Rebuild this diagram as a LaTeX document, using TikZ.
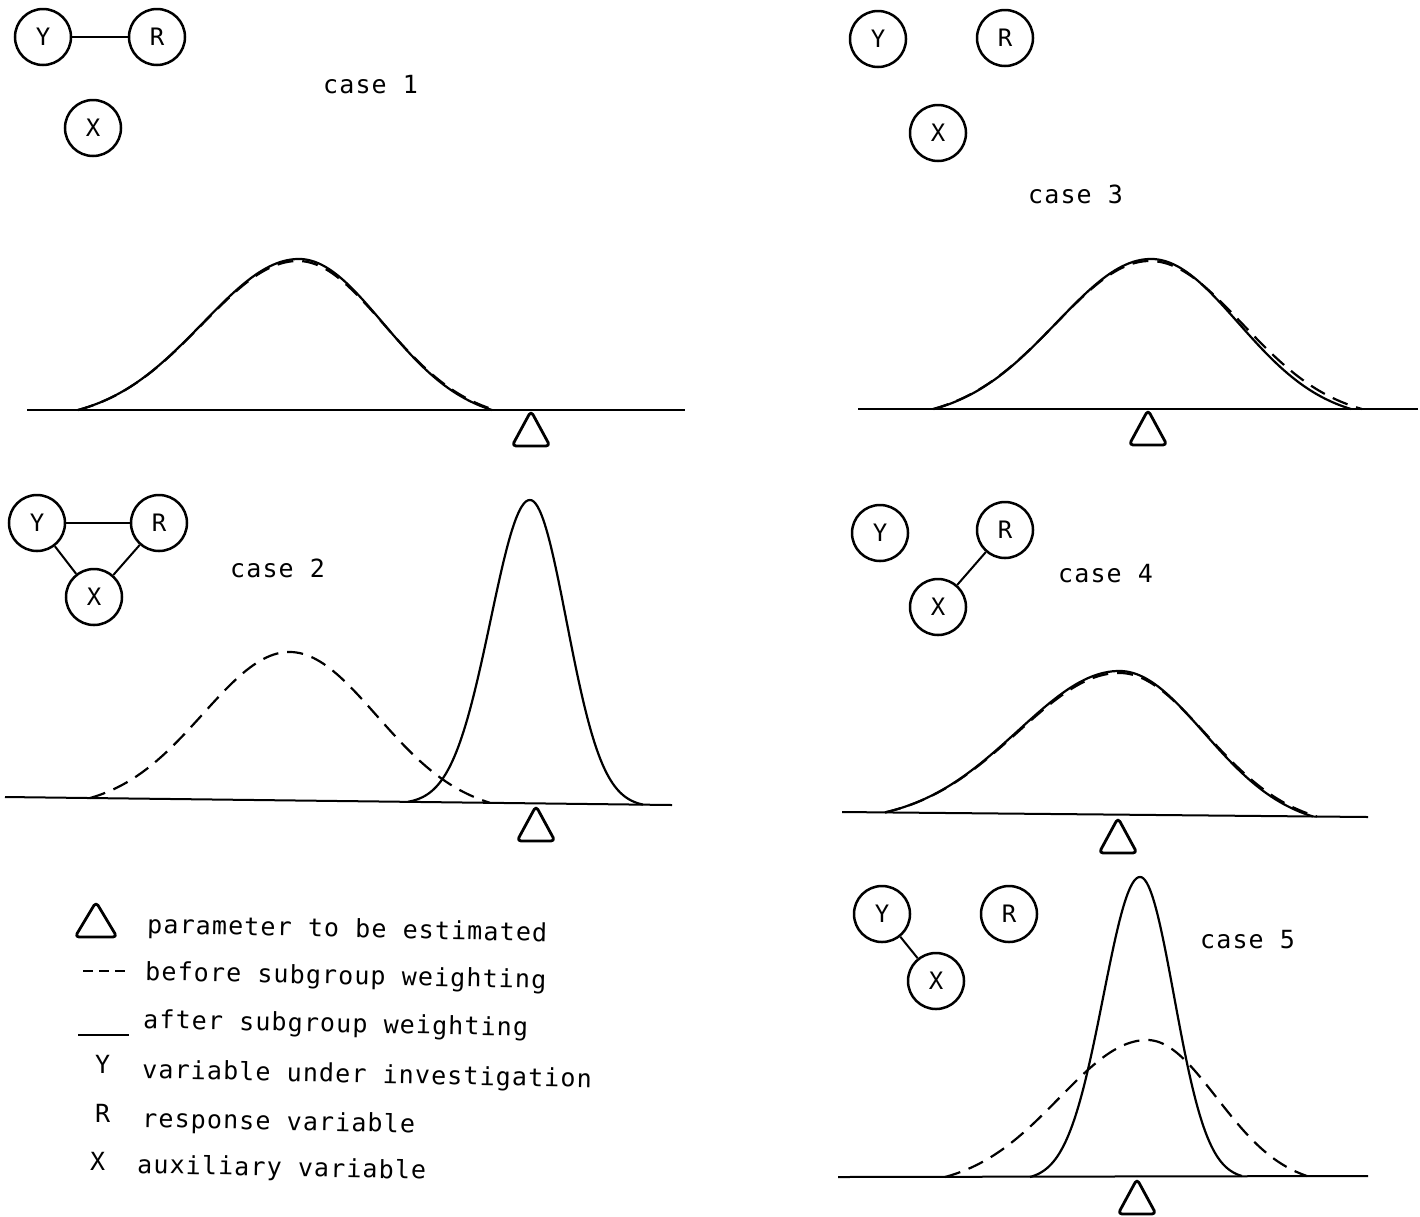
\documentclass[tikz,border=0pt]{standalone}
\usepackage{fontspec}
\newfontfamily\tw{DejaVu Sans Mono}[LetterSpace=4.5]
\newcommand\bell[8]{%
  \draw[#1] plot[domain=-1:1, samples=121, smooth, variable=\t]
   ({#2 + \t*ifthenelse(\t<0,#3,#4)},
    {#5 + (#6-#5)*(\t+1)/2 - ((#5+#6)/2 - #7)*(exp(-#8*#8*\t*\t/2) - exp(-#8*#8/2))/(1-exp(-#8*#8/2))});}
\newcommand\paramtri[3]{\draw[param] (#1,#2) -- ++(-#3,35) -- ++(2*#3,0) -- cycle;}
\begin{document}
\begin{tikzpicture}[x=1pt,y=-1pt,
  var/.style={circle, draw, line width=2.5pt, minimum size=56pt, inner sep=0pt, font=\tw\fontsize{24}{24}\selectfont},
  link/.style={line width=2pt},
  axis/.style={line width=2pt},
  after/.style={line width=2.2pt},
  before/.style={line width=2.2pt, dash pattern=on 16pt off 9pt},
  casetext/.style={font=\tw\fontsize{25}{25}\selectfont, anchor=base west, inner sep=0pt},
  legtext/.style={casetext, rotate=-1.2},
  param/.style={line width=2.8pt, rounded corners=4pt, line join=round}
]
\useasboundingbox (0,0) rectangle (1420,1216);
\fill[white] (0,0) rectangle (1420,1216);

% ---------- case 1
\node[var] (y1) at (43,37) {Y};
\node[var] (r1) at (157,37) {R};
\node[var] (x1) at (93,128) {X};
\draw[link] (y1) -- (r1);
\node[casetext] (c1) at (323,93) {case 1};
\draw[axis] (27,410) -- (685,410);
\bell{before}{298}{220}{197}{410}{410}{261}{2.3}
\bell{after}{299}{221}{193}{410}{410}{259}{2.3}
\paramtri{531}{411}{19}

% ---------- case 3
\node[var] (y3) at (878,39) {Y};
\node[var] (r3) at (1005,38) {R};
\node[var] (x3) at (938,133) {X};
\node[casetext] (c3) at (1028,203) {case 3};
\draw[axis] (858,409) -- (1418,409);
\bell{before}{1150}{217}{212}{409}{409}{261}{2.3}
\bell{after}{1151}{217}{200}{409}{409}{259}{2.3}
\paramtri{1148}{410}{19}

% ---------- case 2
\node[var] (y2) at (37,523) {Y};
\node[var] (r2) at (159,523) {R};
\node[var] (x2) at (94,597) {X};
\draw[link] (y2) -- (r2);
\draw[link] (y2) -- (x2);
\draw[link] (r2) -- (x2);
\node[casetext] (c2) at (230,577) {case 2};
\draw[axis] (5,797) -- (672,805);
\bell{before}{290}{200}{200}{798}{802.8}{652}{2.3}
\bell{after}{530}{122}{113}{801.8}{804.6}{500}{3.1}
\paramtri{536}{806}{19}

% ---------- case 4
\node[var] (y4) at (880,533) {Y};
\node[var] (r4) at (1005,530) {R};
\node[var] (x4) at (938,607) {X};
\draw[link] (r4) -- (x4);
\node[casetext] (c4) at (1058,582) {case 4};
\draw[axis] (842,812) -- (1368,817);
\bell{before}{1120}{235}{197}{812.4}{816.5}{673}{2.3}
\bell{after}{1120}{235}{193}{812.4}{816.5}{671}{2.3}
\paramtri{1118}{818}{19}

% ---------- case 5
\node[var] (y5) at (882,914) {Y};
\node[var] (r5) at (1009,914) {R};
\node[var] (x5) at (936,981) {X};
\draw[link] (y5) -- (x5);
\node[casetext] (c5) at (1200,948) {case 5};
\draw[axis] (838,1177) -- (1368,1176);
\bell{before}{1147}{202}{160}{1177}{1176}{1040}{2.3}
\bell{after}{1140}{110}{102}{1177}{1176}{877}{3.0}
\paramtri{1137}{1179}{19}

% ---------- legend
\paramtri{96}{902}{21}
\draw[line width=2pt, dash pattern=on 10pt off 6pt] (83,971) -- (126,971);
\draw[line width=2pt] (78,1035) -- (129,1035);
\node[legtext] (l1) at (147,933) {parameter to be estimated};
\node[legtext] (l2) at (145,980) {before subgroup weighting};
\node[legtext] (l3) at (143,1028) {after subgroup weighting};
\node[legtext] (l4) at (142,1078) {variable under investigation};
\node[legtext] (l5) at (142,1127) {response variable};
\node[legtext] (l6) at (137,1173) {auxiliary variable};
\node[casetext] (ky) at (95,1073) {Y};
\node[casetext] (kr) at (95,1122) {R};
\node[casetext] (kx) at (90,1170) {X};
\end{tikzpicture}
\end{document}
